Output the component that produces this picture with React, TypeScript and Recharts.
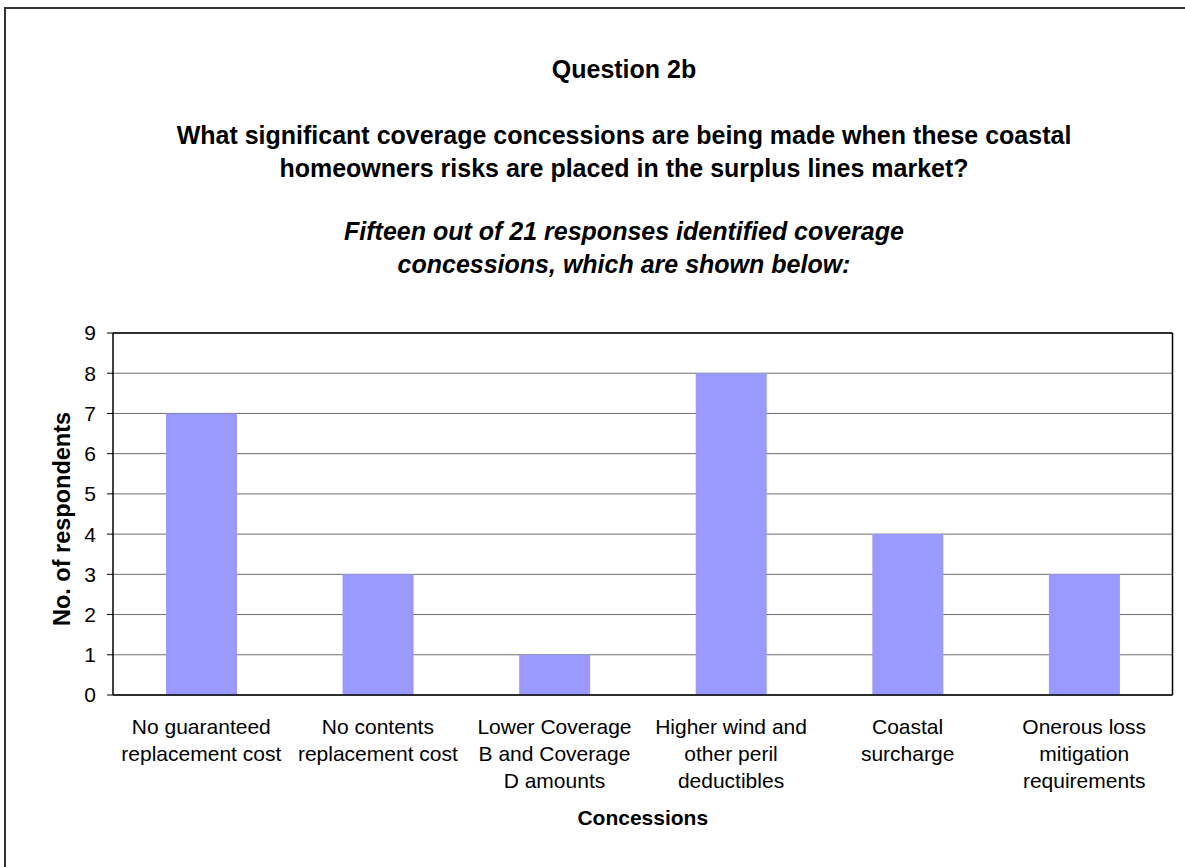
import { Bar, BarChart, CartesianGrid, ReferenceLine, XAxis, YAxis } from "recharts";

const categories = [
  "No guaranteed\nreplacement cost",
  "No contents\nreplacement cost",
  "Lower Coverage\nB and Coverage\nD amounts",
  "Higher wind and\nother peril\ndeductibles",
  "Coastal\nsurcharge",
  "Onerous loss\nmitigation\nrequirements"
];
const respondents = [7, 3, 1, 8, 4, 3];
const yTicks = [0, 1, 2, 3, 4, 5, 6, 7, 8, 9];

const titleLines = [
  "What significant coverage concessions are being made when these coastal",
  "homeowners risks are placed in the surplus lines market?"
];
const subtitleLines = [
  "Fifteen out of 21 responses identified coverage",
  "concessions, which are shown below:"
];

const data = categories.map((name, i) => ({ name, value: respondents[i] }));

const FONT = '"Liberation Sans", Arial, sans-serif';

function CategoryTick({ x, y, payload }: any) {
  const lines = String(payload.value).split("\n");
  return (
    <text x={x} y={y} textAnchor="middle" fontSize={21} fill="#000" fontFamily={FONT}>
      {lines.map((line, i) => (
        <tspan key={i} x={x} dy={i === 0 ? 30.5 : 27}>
          {line}
        </tspan>
      ))}
    </text>
  );
}

function ValueTick({ x, y, payload }: any) {
  return (
    <text x={x} y={y} dy="0.355em" textAnchor="end" fontSize={21} fill="#000" fontFamily={FONT}>
      {payload.value}
    </text>
  );
}

function YTitle() {
  return (
    <text
      x={0}
      y={0}
      transform="translate(70, 519) rotate(-90)"
      textAnchor="middle"
      fontSize={23.5}
      fontWeight="bold"
      fill="#000"
      fontFamily={FONT}
    >
      No. of respondents
    </text>
  );
}

const centered = (top: number, italic = false): React.CSSProperties => ({
  position: "absolute",
  left: 0,
  width: 1248,
  top,
  textAlign: "center",
  fontFamily: FONT,
  fontWeight: "bold",
  fontStyle: italic ? "italic" : "normal",
  fontSize: 25,
  lineHeight: "33px",
  color: "#000",
  whiteSpace: "nowrap"
});

export default function App() {
  return (
    <div
      style={{
        position: "fixed",
        left: 0,
        top: 0,
        width: 1185,
        height: 867,
        overflow: "hidden",
        background: "#fff"
      }}
    >
      <div
        style={{
          position: "absolute",
          left: 4,
          top: 7,
          width: 1240,
          height: 900,
          border: "2px solid #333"
        }}
      />
      <div style={centered(53)}>Question 2b</div>
      <div style={centered(119)}>
        {titleLines.map((l) => (
          <div key={l}>{l}</div>
        ))}
      </div>
      <div style={centered(215, true)}>
        {subtitleLines.map((l) => (
          <div key={l}>{l}</div>
        ))}
      </div>
      <div style={{ position: "absolute", left: 0, top: 0 }}>
        <BarChart
          width={1185}
          height={867}
          data={data}
          margin={{ top: 333, right: 0, bottom: 0, left: 0 }}
          barSize={71}
        >
          <CartesianGrid horizontal vertical={false} stroke="#6e6e6e" strokeWidth={1} />
          <XAxis
            dataKey="name"
            height={172}
            interval={0}
            tickLine={false}
            axisLine={{ stroke: "#000", strokeWidth: 1.5 }}
            tick={<CategoryTick />}
            label={{
              value: "Concessions",
              position: "insideBottom",
              offset: 42,
              fontSize: 21,
              fontWeight: "bold",
              fill: "#000",
              fontFamily: FONT
            }}
          />
          <YAxis
            width={113}
            domain={[0, 9]}
            ticks={yTicks}
            interval={0}
            tickSize={6}
            tickMargin={11}
            tickLine={{ stroke: "#000" }}
            axisLine={{ stroke: "#000", strokeWidth: 1.5 }}
            tick={<ValueTick />}
            label={<YTitle />}
          />
          <YAxis
            yAxisId="right"
            orientation="right"
            width={12.5}
            tick={false}
            tickLine={false}
            axisLine={{ stroke: "#000", strokeWidth: 1.5 }}
          />
          <ReferenceLine y={9} stroke="#000" strokeWidth={1.5} />
          <Bar dataKey="value" fill="#9999ff" isAnimationActive={false} />
        </BarChart>
      </div>
    </div>
  );
}
